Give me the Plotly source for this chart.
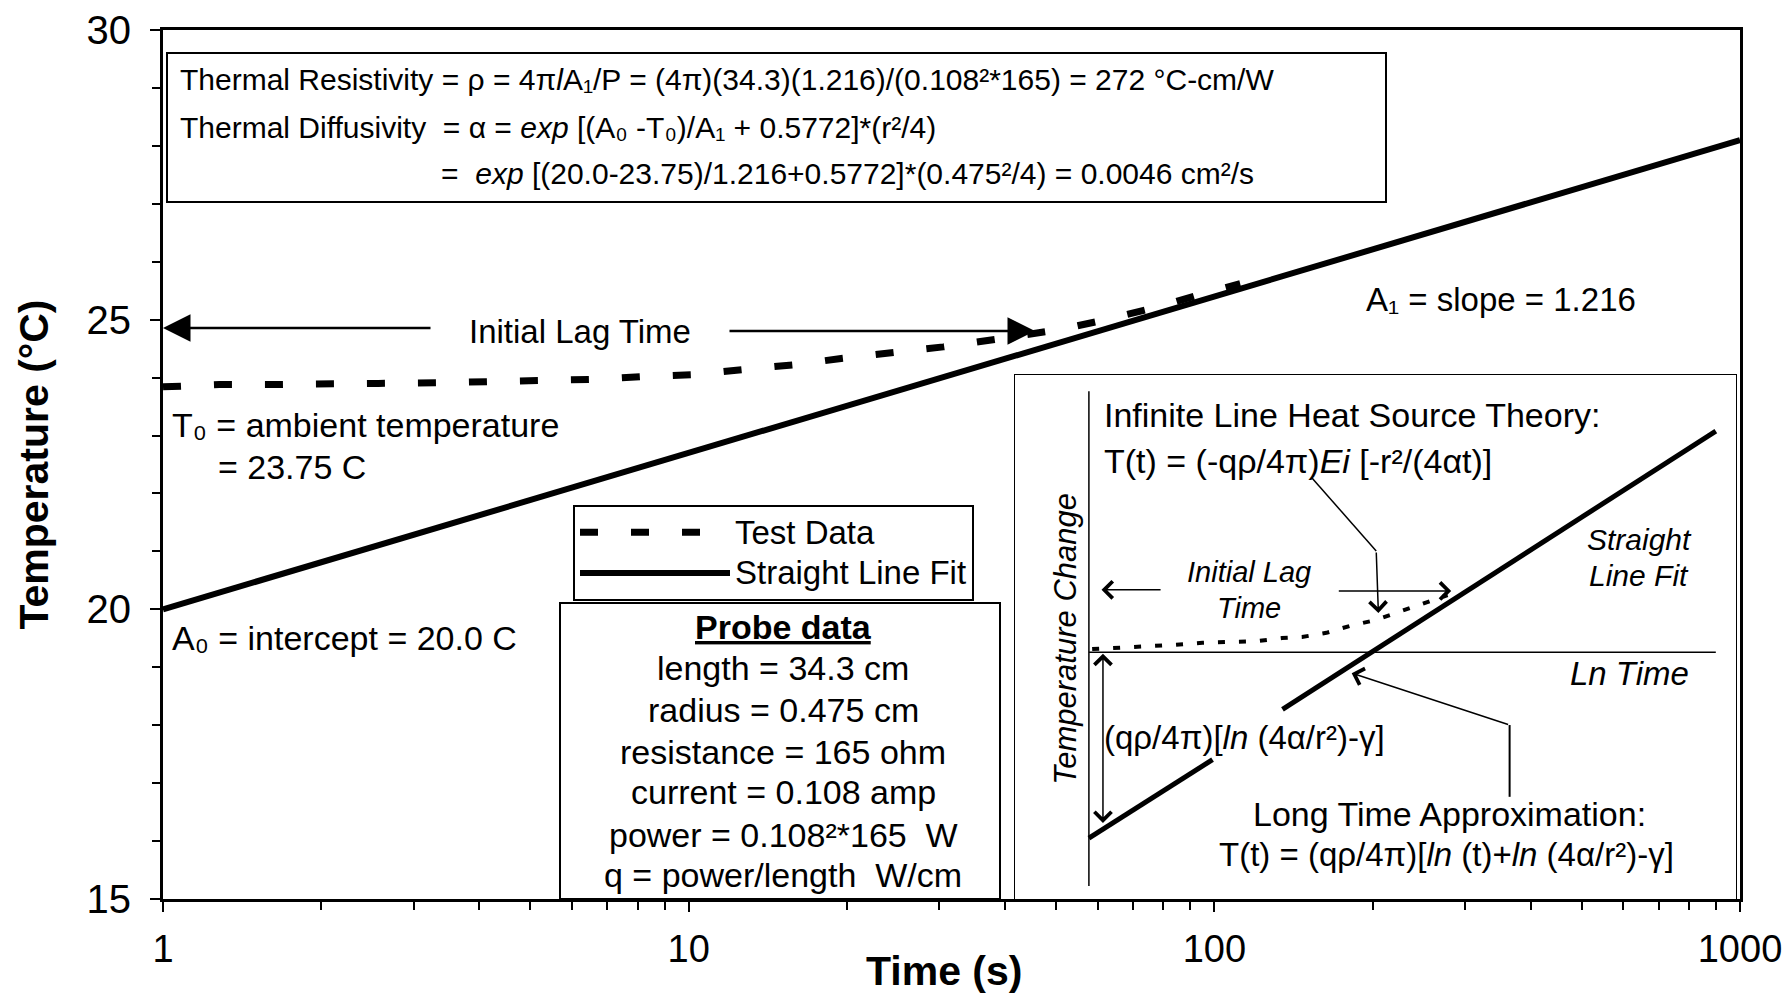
import plotly.graph_objects as go

# ---------------- data ----------------
fit_time = [1, 1000]
fit_temp = [20.0, 28.1]

test_time = [1.0, 1.28, 1.60, 2.03, 2.57, 3.31, 4.27, 5.33, 6.61, 8.29, 10.1, 12.7,
             15.8, 19.5, 24.5, 30.5, 38.3, 46.7, 50.9, 62.2, 78.2, 95.1, 112]
test_temp = [23.84, 23.88, 23.88, 23.90, 23.90, 23.91, 23.93, 23.93, 23.97, 24.02, 24.05, 24.14,
             24.22, 24.33, 24.43, 24.53, 24.66, 24.78, 24.83, 25.00, 25.22, 25.45, 25.62]

x_tick_vals = [1, 10, 100, 1000]
x_tick_text = ["1", "10", "100", "1000"]
y_tick_vals = [15, 20, 25, 30]
y_tick_text = ["15", "20", "25", "30"]

# inset schematic (arbitrary units: ln time vs temperature change)
inset_fit_lnt = [10.25, 27.4, None, 37.1, 97.2]
inset_fit_dT = [11.6, 26.6, None, 36.2, 89.3]
inset_test_lnt = [10.7, 14.3, 18.0, 22.2, 26.0, 29.8, 33.5, 37.0, 39.8, 43.2, 46.4, 49.9, 53.3, 56.6, 60.0]
inset_test_dT = [47.7, 47.9, 48.1, 48.5, 48.9, 49.0, 49.2, 49.8, 50.0, 50.8, 52.1, 53.2, 54.8, 56.3, 58.0]

probe_lines = ["length = 34.3 cm", "radius = 0.475 cm", "resistance = 165 ohm",
               "current = 0.108 amp", "power = 0.108²*165\u00a0\u00a0W",
               "q = power/length\u00a0\u00a0W/cm"]

# ---------------- layout helpers ----------------
FIG_W, FIG_H = 1783, 994
L, R, T, B = 163, 1740, 30, 899
PW, PH = R - L, B - T
FONT = "Liberation Sans, Arial, sans-serif"


def PX(X):
    return (X - L) / PW


def PY(Y):
    return (B - Y) / PH


LEG_TXT = '<span style="font-size:33px">{}</span>'

fig = go.Figure()

fig.add_trace(go.Scatter(x=fit_time, y=fit_temp, mode="lines", name=LEG_TXT.format("Straight Line Fit"),
                         line=dict(color="black", width=6), legendrank=2))
fig.add_trace(go.Scatter(x=test_time, y=test_temp, mode="lines", name=LEG_TXT.format("Test Data"),
                         line=dict(color="black", width=7, dash="18px,33px"), legendrank=1))

# inset traces
fig.add_trace(go.Scatter(x=inset_fit_lnt, y=inset_fit_dT, mode="lines", xaxis="x2", yaxis="y2",
                         showlegend=False, line=dict(color="black", width=5), hoverinfo="skip"))
fig.add_trace(go.Scatter(x=inset_test_lnt, y=inset_test_dT, mode="lines", xaxis="x2", yaxis="y2",
                         showlegend=False, line=dict(color="black", width=4, dash="7px,14px"),
                         hoverinfo="skip"))

shapes = []
# top formula box
shapes.append(dict(type="rect", xref="paper", yref="paper", x0=PX(167), x1=PX(1386), y0=PY(202), y1=PY(53),
                   line=dict(color="black", width=2), fillcolor="white", layer="below"))
# probe data box
shapes.append(dict(type="rect", xref="paper", yref="paper", x0=PX(560), x1=PX(1000), y0=PY(899), y1=PY(603),
                   line=dict(color="black", width=2), fillcolor="white", layer="below"))
# inset box
shapes.append(dict(type="rect", xref="paper", yref="paper", x0=PX(1015), x1=PX(1736), y0=PY(899), y1=PY(375),
                   line=dict(color="black", width=2), fillcolor="white", layer="below"))
# inset axes
shapes.append(dict(type="line", xref="x2", yref="y2", x0=10.25, x1=10.25, y0=2.5, y1=96.9,
                   line=dict(color="black", width=1.5)))
shapes.append(dict(type="line", xref="x2", yref="y2", x0=10.25, x1=97.2, y0=47.1, y1=47.1,
                   line=dict(color="black", width=1.5)))
# leader lines in inset
shapes.append(dict(type="line", xref="x2", yref="y2", x0=41.1, y0=80.5, x1=50.1, y1=66.4,
                   line=dict(color="black", width=1.5)))
shapes.append(dict(type="line", xref="x2", yref="y2", x0=68.6, y0=19.5, x1=68.6, y1=33.2,
                   line=dict(color="black", width=2)))

ann = []


def text(X, Y, s, size=34, anchor="left", **kw):
    ann.append(dict(x=PX(X), y=PY(Y), xref="paper", yref="paper", text=s, showarrow=False,
                    xanchor=anchor, yanchor="middle", font=dict(family=FONT, size=size, color="black"), **kw))


# top formula box text
text(178, 79, "Thermal Resistivity = ρ = 4π<i>l</i>A₁/P = (4π)(34.3)(1.216)/(0.108²*165) = 272 °C-cm/W", size=30)
text(178, 127, "Thermal Diffusivity\u00a0 = α = <i>exp</i> [(A₀ -T₀)/A₁ + 0.5772]*(r²/4)", size=30)
text(439, 173, "=\u00a0 <i>exp</i> [(20.0-23.75)/1.216+0.5772]*(0.475²/4) = 0.0046 cm²/s", size=30)

text(1364, 299, "A₁ = slope = 1.216", size=33)
text(580, 331, "Initial Lag Time", size=33, anchor="center")
text(170, 425, "T₀ = ambient temperature")
text(216, 467, "= 23.75 C")
text(170, 638, "A₀ = intercept = 20.0 C")

# axis title for x (placed like the reference, between the tick labels)
text(944, 971, "<b>Time (s)</b>", size=41, anchor="center")

# probe data
text(783, 627, "<b><u>Probe data</u></b>", anchor="center")
for yy, s in zip([668, 710, 752, 792, 835, 875], probe_lines):
    text(783, yy, s, anchor="center")

# main arrows
ann.append(dict(x=PX(163), y=PY(328), xref="paper", yref="paper", ax=269, ay=0, showarrow=True,
                arrowhead=2, arrowsize=2.2, arrowwidth=2.5, arrowcolor="black", text=""))
ann.append(dict(x=PX(1035), y=PY(331), xref="paper", yref="paper", ax=-307, ay=0, showarrow=True,
                arrowhead=2, arrowsize=2.2, arrowwidth=2.5, arrowcolor="black", text=""))


def itext(u, v, s, size=34, anchor="left", **kw):
    ann.append(dict(x=u, y=v, xref="x2", yref="y2", text=s, showarrow=False, xanchor=anchor,
                    yanchor="middle", font=dict(family=FONT, size=size, color="black"), **kw))


itext(12.0, 92.4, "Infinite Line Heat Source Theory:")
itext(12.0, 83.6, "T(t) = (-qρ/4π)<i>Ei</i> [-r²/(4αt)]")
itext(6.9, 49.6, "<i>Temperature Change</i>", size=31, anchor="center", textangle=-90)
itext(32.5, 62.4, "<i>Initial Lag</i>", size=29, anchor="center")
itext(32.5, 55.5, "<i>Time</i>", size=29, anchor="center")
itext(86.6, 68.7, "<i>Straight</i>", size=30, anchor="center")
itext(86.6, 61.8, "<i>Line Fit</i>", size=30, anchor="center")
itext(85.2, 43.1, "<i>Ln Time</i>", size=33, anchor="center")
itext(12.0, 30.9, "(qρ/4π)[<i>ln</i> (4α/r²)-γ]", size=33)
itext(60.2, 16.2, "Long Time Approximation:", anchor="center")
itext(59.8, 8.4, "T(t) = (qρ/4π)[<i>ln</i> (t)+<i>ln</i> (4α/r²)-γ]", size=33, anchor="center")


def iarrow(u, v, au, av, **kw):
    d = dict(x=u, y=v, ax=au, ay=av, xref="x2", yref="y2", axref="x2", ayref="y2", showarrow=True,
             arrowhead=4, arrowsize=2.2, arrowwidth=1.5, arrowcolor="black", text="")
    d.update(kw)
    ann.append(d)


iarrow(12.0, 59.0, 20.4, 59.0)
iarrow(60.5, 58.8, 44.7, 58.8)
iarrow(50.4, 54.6, 50.1, 66.4)
iarrow(12.2, 14.5, 12.2, 47.1, arrowside="end+start")
iarrow(46.7, 43.1, 68.6, 33.2)

fig.update_layout(
    width=FIG_W, height=FIG_H,
    margin=dict(l=L, r=FIG_W - R, t=T, b=FIG_H - B, autoexpand=False),
    paper_bgcolor="white", plot_bgcolor="white",
    font=dict(family=FONT, size=33, color="black"),
    shapes=shapes, annotations=ann,
    showlegend=True,
    legend=dict(x=PX(573), y=PY(505), xanchor="left", yanchor="top", bgcolor="white",
                bordercolor="black", borderwidth=2, font=dict(family=FONT, size=29),
                itemwidth=150, tracegroupgap=0),
    xaxis=dict(type="log", range=[0, 3], tickvals=x_tick_vals, ticktext=x_tick_text,
               showgrid=False, zeroline=False, showline=True, linecolor="black", linewidth=3, mirror=True,
               ticks="outside", ticklen=10, tickwidth=2, tickcolor="black",
               tickfont=dict(family=FONT, size=38), ticklabelstandoff=4,
               minor=dict(ticks="outside", ticklen=8, tickwidth=1.5, tickcolor="black", dtick="D1", showgrid=False)),
    yaxis=dict(range=[15, 30], tickvals=y_tick_vals, ticktext=y_tick_text,
               showgrid=False, zeroline=False, showline=True, linecolor="black", linewidth=3, mirror=True,
               ticks="outside", ticklen=10, tickwidth=2, tickcolor="black",
               tickfont=dict(family=FONT, size=40), ticklabelstandoff=11,
               minor=dict(ticks="outside", ticklen=8, tickwidth=1.5, tickcolor="black", dtick=1, showgrid=False),
               title=dict(text="<b>Temperature (°C)</b>", font=dict(family=FONT, size=41), standoff=26)),
    xaxis2=dict(domain=[PX(1015), PX(1736)], range=[0, 100], visible=False, anchor="y2"),
    yaxis2=dict(domain=[PY(899), PY(375)], range=[0, 100], visible=False, anchor="x2"),
)

fig.write_html("out.html", config={"displayModeBar": False},
               post_script="document.body.style.margin='0px';document.body.style.overflow='hidden';")
